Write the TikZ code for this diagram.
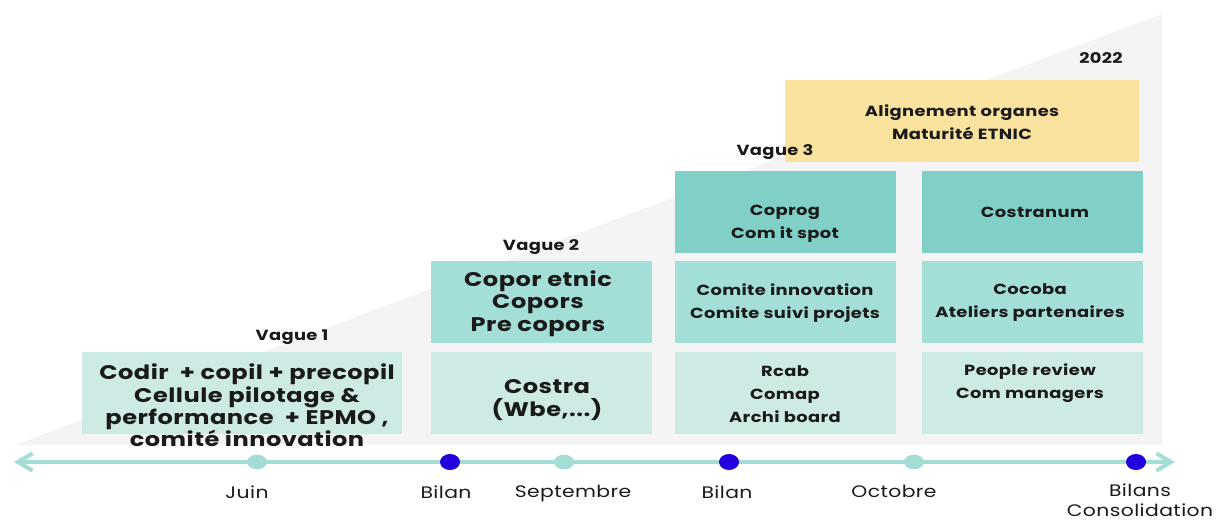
\documentclass[tikz,border=0pt]{standalone}
\usepackage{fontspec}
\setmainfont{Poppins}[FakeStretch=1.22, LetterSpace=2.5]
\usetikzlibrary{arrows.meta,shapes.geometric}
\definecolor{bggray}{HTML}{F4F4F4}
\definecolor{pale}{HTML}{CDEAE5}
\definecolor{mid}{HTML}{A3DFD7}
\definecolor{deep}{HTML}{80D0C7}
\definecolor{sun}{HTML}{FAE39E}
\definecolor{line}{HTML}{A3DDD6}
\definecolor{bilan}{HTML}{2200DD}
\definecolor{ink}{HTML}{1A1A1A}

\begin{document}
\begin{tikzpicture}[x=0.75pt, y=-0.75pt,
  box/.style={rectangle, inner sep=0pt, minimum width=165.75pt, minimum height=61.5pt},
  txt/.style={align=center, font=\fontsize{11}{17.25}\selectfont\bfseries, text=ink},
  bigtxt/.style={align=center, font=\fontsize{14.8}{16.8}\selectfont\bfseries, text=ink},
  vague/.style={font=\fontsize{11}{13}\selectfont\bfseries, text=ink},
  month/.style={align=center, font=\fontsize{12.5}{15}\selectfont, text=ink},
  tdot/.style={ellipse, fill=line, inner sep=0pt, minimum width=15pt, minimum height=11pt},
  bdot/.style={tdot, fill=bilan, minimum height=12pt}]
  \useasboundingbox (0,0) rectangle (1218,521);
  % fond
  \fill[bggray] (15,445) -- (1162,14) -- (1162,445) -- cycle;
  % blocs
  \node[box, fill=pale, minimum width=240pt] (b-v1) at (242,393) {};
  \node[box, fill=mid] (b-copor) at (541.5,302) {};
  \node[box, fill=pale] (b-costra) at (541.5,393) {};
  \node[box, fill=deep] (b-coprog) at (785.5,211.5) {};
  \node[box, fill=mid] (b-comite) at (785.5,302) {};
  \node[box, fill=pale] (b-rcab) at (785.5,393) {};
  \node[box, fill=deep] (b-costranum) at (1032,211.5) {};
  \node[box, fill=mid] (b-cocoba) at (1032,302) {};
  \node[box, fill=pale] (b-people) at (1032,393) {};
  \node[box, fill=sun, minimum width=265.5pt] (b-align) at (962,121) {};
  % textes
  \node[bigtxt] (t-v1) at (247,405.5) {Codir \ + copil + precopil\\Cellule pilotage \&\\performance \ + EPMO ,\\comité innovation};
  \node[bigtxt] (t-copor) at (538,303.5) {Copor etnic\\Copors\\Pre copors};
  \node[bigtxt] (t-costra) at (547,400) {Costra\\(Wbe,...)};
  \node[txt] (t-coprog) at (785,223.5) {Coprog\\Com it spot};
  \node[txt] (t-comite) at (785,303) {Comite innovation\\Comite suivi projets};
  \node[txt] (t-rcab) at (785,394.5) {Rcab\\Comap\\Archi board};
  \node[txt] (t-costranum) at (1035,212) {Costranum};
  \node[txt] (t-cocoba) at (1030,303) {Cocoba\\Ateliers partenaires};
  \node[txt] (t-people) at (1030,383) {People review\\Com managers};
  \node[txt] (t-align) at (962,122.5) {Alignement organes\\Maturité ETNIC};
  \node[vague] (v1) at (292,337) {Vague 1};
  \node[vague] (v2) at (541,247) {Vague 2};
  \node[vague] (v3) at (775,152) {Vague 3};
  \node[vague] (an) at (1101,58) {2022};
  % frise
  \coordinate (tl) at (14,462);
  \coordinate (tr) at (1175,462);
  \draw[line, line width=3pt, {Straight Barb[length=11pt, width=13pt]}-{Straight Barb[length=11pt, width=13pt]}] (tl) -- (tr);
  \node[tdot] (d-juin) at (257,462) {};
  \node[bdot] (d-bilan1) at (450,462) {};
  \node[tdot] (d-sept) at (564,462) {};
  \node[bdot] (d-bilan2) at (729,462) {};
  \node[tdot] (d-oct) at (914,462) {};
  \node[bdot] (d-bilans) at (1136,462) {};
  \node[month] (m-juin) at (247,492) {Juin};
  \node[month] (m-bilan1) at (446,492) {Bilan};
  \node[month] (m-sept) at (573,493) {Septembre};
  \node[month] (m-bilan2) at (727,492) {Bilan};
  \node[month] (m-oct) at (894,491) {Octobre};
  \node[month] (m-bilans) at (1140,500) {Bilans\\Consolidation};
\end{tikzpicture}
\end{document}
